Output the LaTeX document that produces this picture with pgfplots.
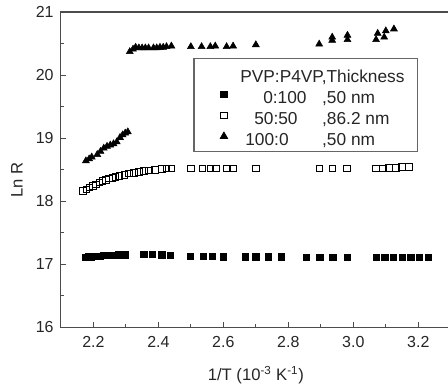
\documentclass[border=0pt]{standalone}
\usepackage{fontspec}
\setmainfont{Liberation Sans}
\usepackage{pgfplots}
\pgfplotsset{compat=1.18}
\begin{document}
\begin{tikzpicture}
\begin{axis}[
  scale only axis, width=293pt, height=237pt,
  at={(0,0)}, anchor=south west,
  xmin=2.1, xmax=3.3, ymin=16, ymax=21,
  xtick={2.2,2.4,2.6,2.8,3.0,3.2},
  xticklabels={2.2,2.4,2.6,2.8,3.0,3.2},
  ytick={16,17,18,19,20,21},
  minor x tick num=1, minor y tick num=1,
  tick align=inside, xtick pos=bottom, ytick pos=left,
  major tick length=4pt, minor tick length=2.5pt,
  axis line style={black!70, line width=0.8pt},
  every tick/.style={black!70, line width=0.8pt},
  /pgf/number format/assume math mode=true,
  ticklabel style={font=\fontsize{12}{14}\selectfont, text=black!85},
  xticklabel style={yshift=-3pt},
  yticklabel style={xshift=-2pt},
  label style={font=\fontsize{12.5}{14}\selectfont, text=black!85},
  xlabel={1/T (10\textsuperscript{-3} K\textsuperscript{-1})},
  xlabel style={at={(axis description cs:0.5,-0.152)}, anchor=center},
  ylabel={Ln R},
  ylabel style={at={(axis description cs:-0.1126,0.468)}, anchor=center},
  legend cell align=left,
  legend image code/.code={\draw[#1,mark repeat=2,mark phase=2] plot coordinates {(0pt,0pt)(22.5pt,0pt)(30pt,0pt)};},
  legend style={at={(0.340,0.854)}, anchor=north west, draw=black!60, line width=0.8pt,
    font=\fontsize{13}{15}\selectfont, text=black!85, row sep=1.75pt, column sep=9.75pt,
    inner xsep=0pt, inner ysep=4.2pt,
    nodes={text height=14pt, text depth=0pt, inner ysep=0pt, inner xsep=0pt}},
]
\addlegendimage{empty legend}
\addlegendentry{\makebox[133pt][l]{PVP:P4VP,Thickness}}
% 0:100, 50 nm (filled squares)
\addplot[only marks, mark=square*, mark size=2.4pt, black] coordinates {
(2.177,17.11)(2.185,17.12)(2.193,17.12)(2.20,17.13)(2.21,17.13)(2.22,17.13)(2.23,17.14)
(2.24,17.14)(2.25,17.14)(2.26,17.14)(2.27,17.14)(2.278,17.15)(2.299,17.15)
(2.355,17.16)(2.382,17.16)(2.41,17.15)(2.437,17.14)
(2.498,17.13)(2.538,17.13)(2.566,17.13)(2.60,17.12)
(2.667,17.12)(2.70,17.12)(2.738,17.12)(2.779,17.12)
(2.856,17.11)(2.897,17.11)(2.937,17.11)(2.982,17.11)
(3.07,17.11)(3.097,17.11)(3.123,17.11)(3.15,17.11)(3.177,17.11)(3.203,17.11)(3.23,17.11)
};
\addlegendentry{\makebox[61.5pt][l]{\hspace{17.25pt}0:100},50 nm}
% 50:50, 86.2 nm (open squares)
\addplot[only marks, mark=square, mark size=2.5pt, black, mark options={line width=0.5pt}] coordinates {
(2.168,18.16)(2.178,18.19)(2.188,18.22)(2.198,18.24)(2.208,18.27)(2.218,18.30)(2.228,18.32)
(2.238,18.34)(2.248,18.36)(2.258,18.37)(2.268,18.39)(2.28,18.40)(2.295,18.42)(2.31,18.44)
(2.325,18.45)(2.34,18.47)(2.355,18.48)(2.37,18.49)(2.39,18.50)(2.41,18.51)(2.425,18.52)(2.44,18.52)
(2.50,18.52)(2.535,18.52)(2.56,18.52)(2.577,18.52)(2.61,18.52)(2.63,18.52)
(2.70,18.52)
(2.895,18.52)(2.935,18.52)(2.98,18.52)
(3.07,18.52)(3.09,18.52)(3.11,18.53)(3.13,18.53)(3.15,18.54)(3.17,18.55)
};
\addlegendentry{\makebox[61.5pt][l]{\hspace{10.5pt}50:50},86.2 nm}
% 100:0, 50 nm (filled triangles)
\addplot[only marks, mark=triangle*, mark size=3pt, black] coordinates {
(2.177,18.64)(2.187,18.67)(2.195,18.70)(2.212,18.74)(2.222,18.79)(2.232,18.84)(2.242,18.87)
(2.252,18.89)(2.262,18.91)(2.272,18.94)(2.282,19.01)(2.29,19.05)(2.298,19.08)(2.306,19.10)
(2.312,20.37)(2.322,20.41)(2.33,20.44)(2.34,20.43)(2.35,20.43)(2.36,20.43)(2.37,20.43)
(2.385,20.43)(2.395,20.43)(2.405,20.44)(2.415,20.44)(2.425,20.45)(2.44,20.46)
(2.50,20.45)(2.533,20.45)(2.56,20.45)(2.575,20.46)(2.61,20.45)(2.63,20.46)
(2.70,20.48)
(2.895,20.49)(2.935,20.55)(2.935,20.60)(2.982,20.56)(2.982,20.63)
(3.07,20.56)(3.075,20.66)(3.095,20.60)(3.10,20.70)(3.125,20.73)
};
\addlegendentry{\makebox[61.5pt][l]{\hspace{3.75pt}100:0},50 nm}
\end{axis}
\pgfresetboundingbox
\path (-45.75pt,-45pt) rectangle (290.9pt,246pt);
\end{tikzpicture}
\end{document}
